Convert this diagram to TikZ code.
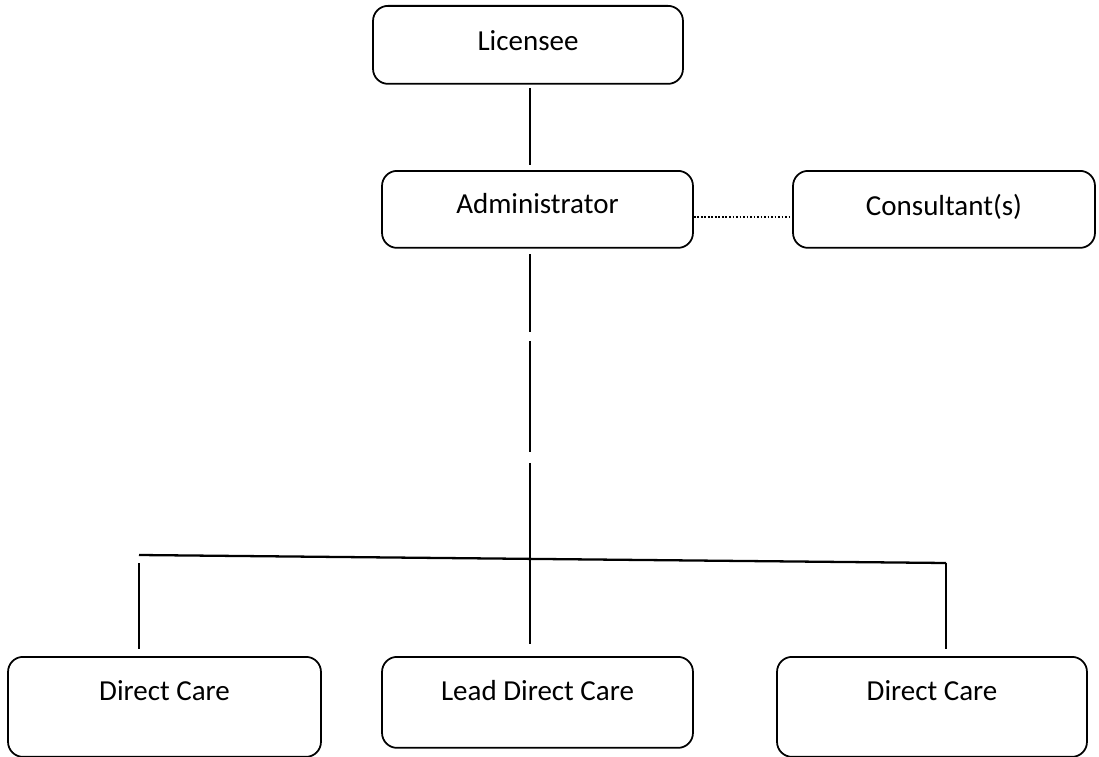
\documentclass[tikz,border=0pt]{standalone}
\usepackage{fontspec}
\setmainfont{Carlito}
\usetikzlibrary{positioning}

\begin{document}
\begin{tikzpicture}[
    x=0.02cm, y=-0.02cm,
    box/.style={rectangle, draw=black, rounded corners=0.3cm, line width=1pt, inner xsep=0pt, inner ysep=0pt, anchor=north, align=center, font=\fontsize{16.5}{19}\selectfont},
    link/.style={line width=1.1pt, color=black},
]
\useasboundingbox (0,0) rectangle (1099,757);

% Top of the chart
\node[box, minimum width=6.2cm, text height=0.9cm, text depth=0.66cm] (lic) at (528,5) {Licensee};
\node[box, minimum width=6.22cm, text height=0.86cm, text depth=0.68cm] (adm) at (537.5,170) {Administrator};
\node[box, minimum width=6.04cm, text height=0.9cm, text depth=0.64cm] (cons) at (944,170) {Consultant(s)};

% Staff boxes
\node[box, minimum width=6.26cm, text height=0.88cm, text depth=1.12cm] (dcleft) at (164.5,656) {Direct Care};
\node[box, minimum width=6.22cm, text height=0.88cm, text depth=0.94cm] (lead) at (537.5,656) {Lead Direct Care};
\node[box, minimum width=6.2cm, text height=0.88cm, text depth=1.12cm] (dcright) at (932,656) {Direct Care};

% Line ends
\coordinate (licdown) at (530,88);
\coordinate (admup) at (530,165);
\coordinate (admdown) at (530,254);
\coordinate (leadup) at (530,644);
\coordinate (barleft) at (139,555);
\coordinate (barright) at (946,563);
\coordinate (legleft) at (139,563);
\coordinate (dcleftup) at (139,649);
\coordinate (dcrightup) at (946,649);

% Connections
\draw[link] (licdown) -- (admup);
\draw[link, line width=0.8pt, dash pattern=on 1pt off 1pt] ([yshift=-0.15cm]adm.east) -- ([yshift=-0.15cm]cons.west);
\draw[link, dash pattern=on 1.56cm off 0.18cm on 2.22cm off 0.22cm on 3.62cm off 1cm] (admdown) -- (leadup);
\draw[link, line width=1.3pt] (barleft) -- (barright);
\draw[link] (legleft) -- (dcleftup);
\draw[link] (barright) -- (dcrightup);

\end{tikzpicture}
\end{document}
